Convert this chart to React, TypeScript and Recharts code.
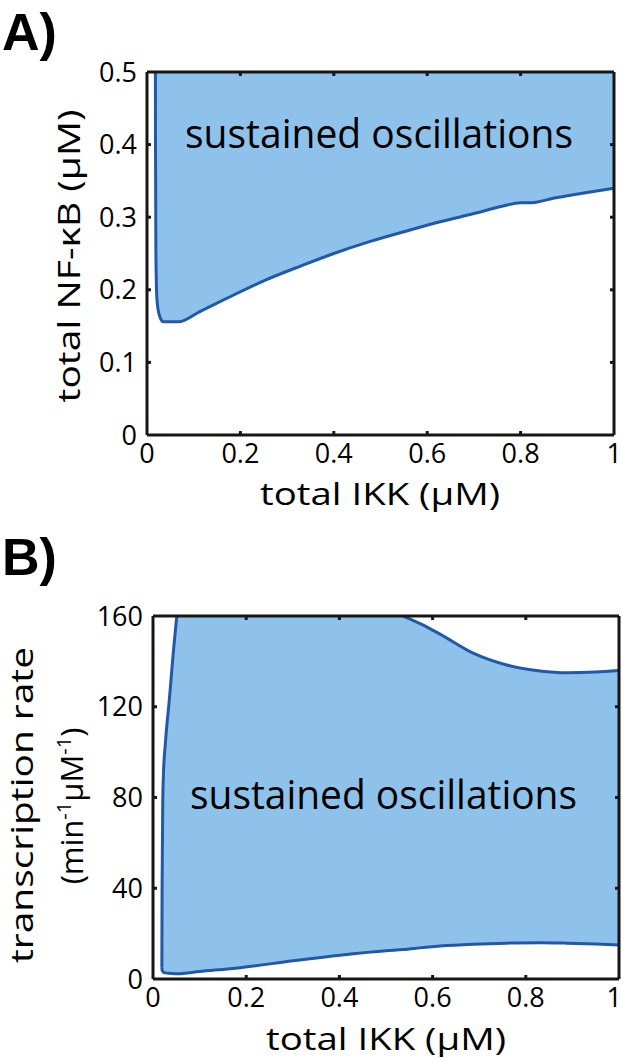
import { ComposedChart, Area, Line, XAxis, YAxis, ReferenceLine, ReferenceDot } from 'recharts'

const font = '"Open Sans", sans-serif'
const boldFont = '"Liberation Sans", Arial, sans-serif'
const fill = '#8ec2ea'
const edge = '#2258a8'
const ink = '#161616'

const xTicks = [0, 0.2, 0.4, 0.6, 0.8, 1]
const aYTicks = [0, 0.1, 0.2, 0.3, 0.4, 0.5]
const bYTicks = [0, 40, 80, 120, 160]

// panel A: lower edge of the oscillating region (region runs up to the top of the axes)
const aIkk = [0.018, 0.0182, 0.019, 0.021, 0.024, 0.028, 0.035, 0.067, 0.113, 0.17, 0.256, 0.33, 0.4, 0.48, 0.556, 0.63, 0.7, 0.76, 0.8, 0.824, 0.87, 0.913, 1.0]
const aNfkb = [0.5, 0.4, 0.255, 0.19, 0.172, 0.162, 0.156, 0.156, 0.17, 0.188, 0.214, 0.233, 0.25, 0.267, 0.281, 0.294, 0.305, 0.315, 0.32, 0.32, 0.326, 0.331, 0.34]

// panel B: lower and upper edge of the region
const bIkk = [0.019, 0.0195, 0.021, 0.022, 0.027, 0.035, 0.044, 0.051, 0.1, 0.187, 0.3, 0.401, 0.5, 0.537, 0.58, 0.616, 0.687, 0.759, 0.83, 0.888, 0.95, 1.0]
const bLow = [5, 4, 3.3, 3, 2.7, 2.5, 2.4, 2.3, 3.3, 5, 8, 10.5, 12.5, 13, 13.9, 14.5, 15.3, 15.8, 16, 15.8, 15.4, 15]
const bHigh = [5, 40, 79, 88, 105, 123, 145, 160, 160, 160, 160, 160, 160, 160, 156, 152, 143.6, 138.4, 135.8, 135, 135.3, 136]

const aData = aIkk.map((x, i) => ({ x, low: aNfkb[i], high: 0.5 }))
const bData = bIkk.map((x, i) => ({ x, low: bLow[i], high: bHigh[i] }))
const bLeftEdge = bData.filter((d) => d.x <= 0.051)
const bTopEdge = bData.filter((d) => d.x >= 0.537)

const W = 623
const B_TOP = 515

// inward tick marks on all four sides plus the top/right frame (matlab box)
const frame = (yTicks: number[], yMax: number, plotW: number, plotH: number) => {
	const dx = 4 / plotW
	const dy = (4 / plotH) * yMax
	const out: any[] = []
	out.push(<ReferenceLine key="top" y={yMax} stroke={ink} strokeWidth={3} />)
	out.push(<ReferenceLine key="right" x={1} stroke={ink} strokeWidth={3} />)
	xTicks.slice(1, -1).forEach((t) => {
		out.push(<ReferenceLine key={`xb${t}`} segment={[{ x: t, y: 0 }, { x: t, y: dy }]} stroke={ink} strokeWidth={3} />)
		out.push(<ReferenceLine key={`xt${t}`} segment={[{ x: t, y: yMax }, { x: t, y: yMax - dy }]} stroke={ink} strokeWidth={3} />)
	})
	yTicks.slice(1, -1).forEach((t) => {
		out.push(<ReferenceLine key={`yl${t}`} segment={[{ x: 0, y: t }, { x: dx, y: t }]} stroke={ink} strokeWidth={3} />)
		out.push(<ReferenceLine key={`yr${t}`} segment={[{ x: 1, y: t }, { x: 1 - dx, y: t }]} stroke={ink} strokeWidth={3} />)
	})
	return out
}

// region label drawn in the reference layer so it sits above the fill
const regionLabel = (x: number, y: number, len: number, ax: number, ay: number) => (
	<ReferenceDot
		x={ax}
		y={ay}
		r={0}
		stroke="none"
		fill="none"
		label={{
			content: () => (
				<text x={x} y={y} fontFamily={font} fontSize={41} textLength={len} lengthAdjust="spacingAndGlyphs" fill="#000">
					sustained oscillations
				</text>
			),
		}}
	/>
)

// x tick label, kept inside the page at the right edge
const XTick = (props: any) => {
	const { x, y, payload } = props
	const nearEdge = x > W - 12
	return (
		<text x={nearEdge ? W - 1 : x} y={y} dy="0.71em" textAnchor={nearEdge ? 'end' : 'middle'} fontSize={27} fontFamily={font} fill="#000">
			{payload.value}
		</text>
	)
}

const tickStyle = { fontSize: 27, fill: '#000', fontFamily: font }
const axisLine = { stroke: ink, strokeWidth: 3 }

const PanelA = () => (
	<ComposedChart width={W} height={B_TOP} data={aData} margin={{ top: 72, right: 9, bottom: B_TOP - 435 - 60, left: 47 }}>
		<XAxis type="number" dataKey="x" domain={[0, 1]} ticks={xTicks} interval={0} tickLine={false} axisLine={axisLine} tick={<XTick />} tickMargin={3} height={60} />
		<YAxis type="number" domain={[0, 0.5]} ticks={aYTicks} interval={0} tickLine={false} axisLine={axisLine} tick={tickStyle} tickMargin={4} width={100} />
		<Area dataKey={(d: any) => [d.low, d.high]} type="monotone" fill={fill} fillOpacity={1} stroke="none" isAnimationActive={false} />
		<Line dataKey="low" type="monotone" stroke={edge} strokeWidth={3} dot={false} isAnimationActive={false} />
		{frame(aYTicks, 0.5, 467, 363)}
		{regionLabel(185, 148, 388, 0.5, 0.45)}
		<text x={2} y={50} fontFamily={boldFont} fontWeight={700} fontSize={52} fill="#000">A)</text>
		<text x={80} y={256} transform="rotate(-90 80 256)" textAnchor="middle" fontFamily={font} fontSize={31} textLength={293} lengthAdjust="spacingAndGlyphs" fill="#000">total NF-κB (µM)</text>
		<text x={380} y={505} textAnchor="middle" fontFamily={font} fontSize={31} textLength={240} lengthAdjust="spacingAndGlyphs" fill="#000">total IKK (µM)</text>
	</ComposedChart>
)

const PanelB = () => (
	<ComposedChart width={W} height={1061 - B_TOP} data={bData} margin={{ top: 616 - B_TOP, right: 4, bottom: 1061 - 979 - 60, left: 53 }}>
		<XAxis type="number" dataKey="x" domain={[0, 1]} ticks={xTicks} interval={0} tickLine={false} axisLine={axisLine} tick={<XTick />} tickMargin={3} height={60} />
		<YAxis type="number" domain={[0, 160]} ticks={bYTicks} interval={0} tickLine={false} axisLine={axisLine} tick={tickStyle} tickMargin={4} width={100} />
		<Area dataKey={(d: any) => [d.low, d.high]} type="monotone" fill={fill} fillOpacity={1} stroke="none" isAnimationActive={false} />
		<Line dataKey="low" type="monotone" stroke={edge} strokeWidth={3} dot={false} isAnimationActive={false} />
		<Line data={bLeftEdge} dataKey="high" type="monotone" stroke={edge} strokeWidth={3} dot={false} isAnimationActive={false} />
		<Line data={bTopEdge} dataKey="high" type="monotone" stroke={edge} strokeWidth={3} dot={false} isAnimationActive={false} />
		{frame(bYTicks, 160, 466, 363)}
		{regionLabel(190, 809 - B_TOP, 387, 0.5, 80)}
		<text x={2} y={575 - B_TOP} fontFamily={boldFont} fontWeight={700} fontSize={52} fill="#000">B)</text>
		<text x={33} y={805 - B_TOP} transform={`rotate(-90 33 ${805 - B_TOP})`} textAnchor="middle" fontFamily={font} fontSize={31} textLength={316} lengthAdjust="spacingAndGlyphs" fill="#000">transcription rate</text>
		<text x={83} y={806 - B_TOP} transform={`rotate(-90 83 ${806 - B_TOP})`} textAnchor="middle" fontFamily={font} fontSize={31} fill="#000">
			(min<tspan fontSize={20} dy={-12}>-1</tspan><tspan dy={12}>µM</tspan><tspan fontSize={20} dy={-12}>-1</tspan><tspan dy={12}>)</tspan>
		</text>
		<text x={386} y={1050 - B_TOP} textAnchor="middle" fontFamily={font} fontSize={31} textLength={240} lengthAdjust="spacingAndGlyphs" fill="#000">total IKK (µM)</text>
	</ComposedChart>
)

export default function App() {
	return (
		<div style={{ position: 'absolute', left: 0, top: 0, width: W, height: 1061, background: '#fff' }}>
			<div style={{ position: 'absolute', left: 0, top: 0 }}>
				<PanelA />
			</div>
			<div style={{ position: 'absolute', left: 0, top: B_TOP }}>
				<PanelB />
			</div>
		</div>
	)
}
